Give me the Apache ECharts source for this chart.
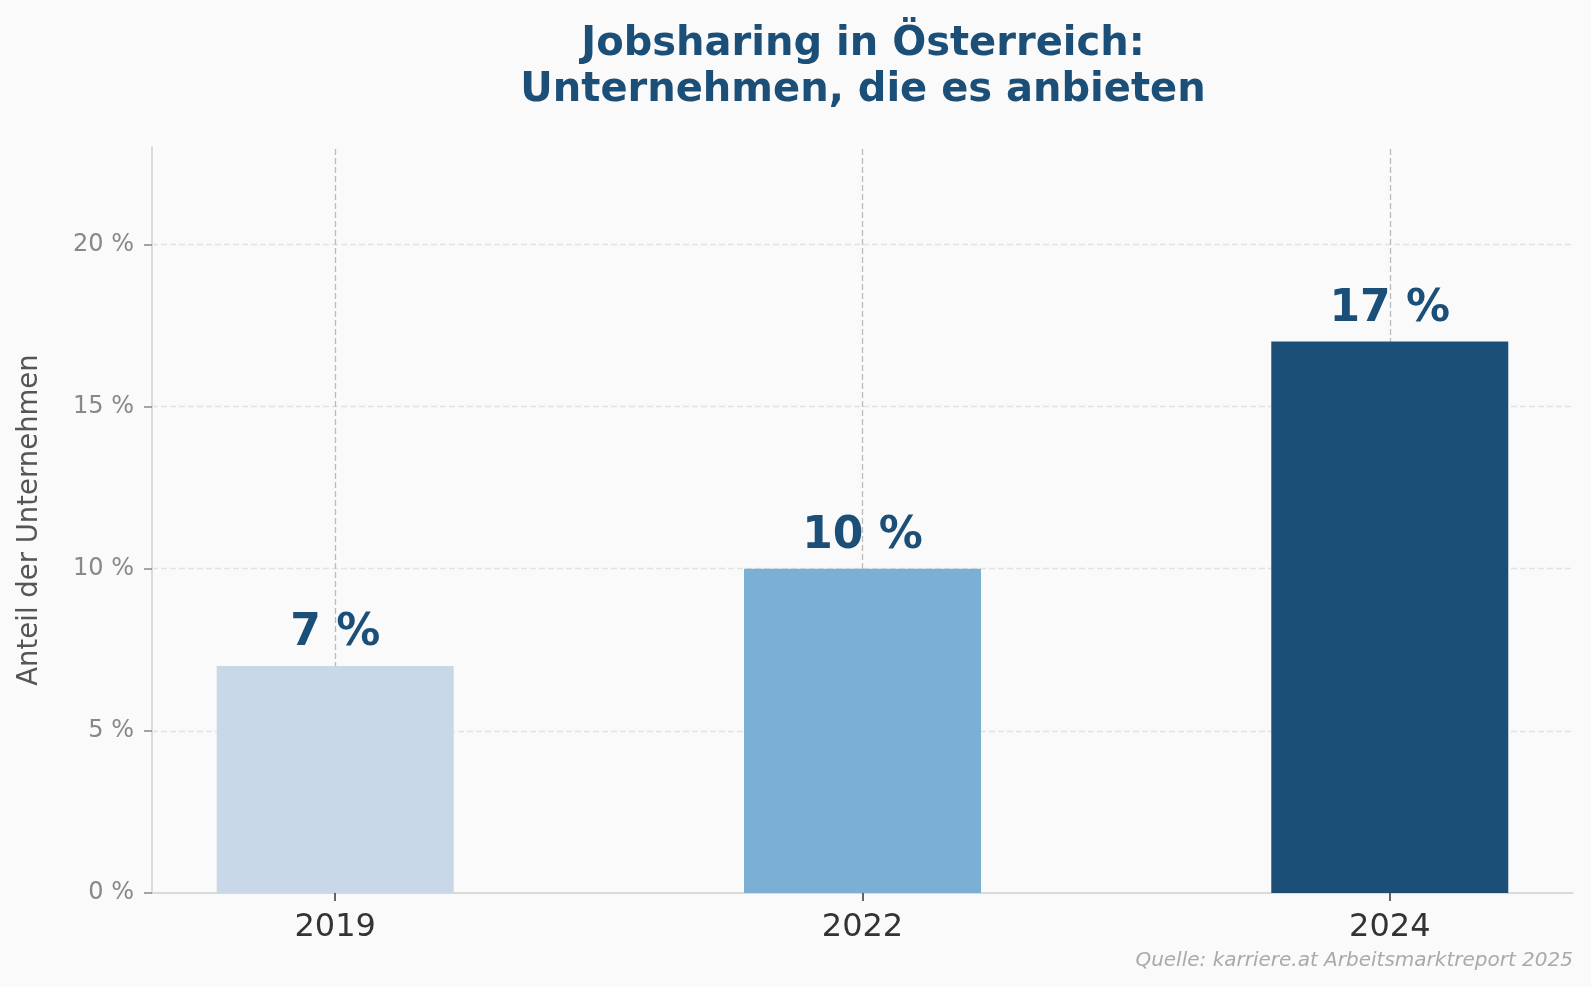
<!DOCTYPE html>
<html>
<head>
<meta charset="utf-8">
<title>Jobsharing in Österreich</title>
<script src="https://cdn.jsdelivr.net/npm/echarts@6/dist/echarts.min.js"></script>
<style>
  html, body { margin: 0; padding: 0; background: #fafafa; }
  #chart { width: 1591px; height: 987px; }
</style>
</head>
<body>
<div id="chart"></div>
<script>
// Daten
var years = ['2019', '2022', '2024'];
var shares = [7, 10, 17];
var yTicks = [0, 5, 10, 15, 20];
var barColors = ['#c8d8e8', '#7bafd4', '#1b4f78'];

var FONT = 'DejaVu Sans';
var DARK = '#1b4f78';

var chart = echarts.init(document.getElementById('chart'));

var barData = [];
for (var i = 0; i < years.length; i++) {
    barData.push({ value: [i, shares[i]], itemStyle: { color: barColors[i] } });
}

// Gitterlinien hinter den Balken
var vLines = [];
for (var i = 0; i < years.length; i++) {
    vLines.push({ xAxis: i, lineStyle: { color: '#bbbbbb' } });
}
var hLines = [];
for (var i = 1; i < yTicks.length; i++) {
    hLines.push({ yAxis: yTicks[i], lineStyle: { color: '#e2e2e2' } });
}

var option = {
    backgroundColor: '#fafafa',
    animation: false,
    title: {
        text: 'Jobsharing in Österreich:\nUnternehmen, die es anbieten',
        left: 858,
        top: 17,
        textAlign: 'center',
        textStyle: {
            fontFamily: FONT,
            fontSize: 40,
            fontWeight: 'bold',
            color: DARK,
            lineHeight: 46
        }
    },
    graphic: [{
        type: 'text',
        right: 18,
        top: 951,
        style: {
            text: 'Quelle: karriere.at Arbeitsmarktreport 2025',
            font: 'italic 20px "DejaVu Sans"',
            fill: '#aaaaaa'
        }
    }],
    grid: { left: 152, right: 18, top: 147, bottom: 94 },
    xAxis: {
        type: 'value',
        min: -0.3475,
        max: 2.3475,
        axisLine: { show: true, onZero: false, lineStyle: { color: '#d0d0d0', width: 1.5 } },
        axisTick: { show: true, customValues: [0, 1, 2], length: 8, lineStyle: { color: '#333', width: 1.5 } },
        axisLabel: {
            customValues: [0, 1, 2],
            formatter: function (v) { return years[Math.round(v)]; },
            margin: 19,
            fontFamily: FONT,
            fontSize: 32,
            color: '#333333'
        },
        splitLine: { show: false }
    },
    yAxis: {
        type: 'value',
        min: 0,
        max: 23,
        name: 'Anteil der Unternehmen',
        nameLocation: 'middle',
        nameGap: 108,
        nameTextStyle: { fontFamily: FONT, fontSize: 27.5, color: '#555555' },
        axisLine: { show: true, onZero: false, lineStyle: { color: '#d0d0d0', width: 1.5 } },
        axisTick: { show: true, customValues: yTicks, length: 8, lineStyle: { color: '#888', width: 1.5 } },
        axisLabel: {
            customValues: yTicks,
            formatter: '{value} %',
            margin: 18,
            fontFamily: FONT,
            fontSize: 24,
            color: '#888888'
        },
        splitLine: { show: false }
    },
    series: [{
        type: 'line',
        data: [],
        z: 1,
        silent: true,
        markLine: {
            z: 1,
            silent: true,
            symbol: 'none',
            label: { show: false },
            lineStyle: { type: [6, 3], width: 1.3 },
            data: hLines.concat(vLines)
        }
    }, {
        type: 'bar',
        z: 10,
        barWidth: 237,
        data: barData,
        label: {
            show: true,
            position: 'top',
            distance: 10,
            formatter: function (p) { return p.value[1] + ' %'; },
            fontFamily: FONT,
            fontSize: 44,
            fontWeight: 'bold',
            color: DARK
        }
    }]
};

chart.setOption(option);
window.addEventListener('resize', function () { chart.resize(); });
</script>
</body>
</html>
